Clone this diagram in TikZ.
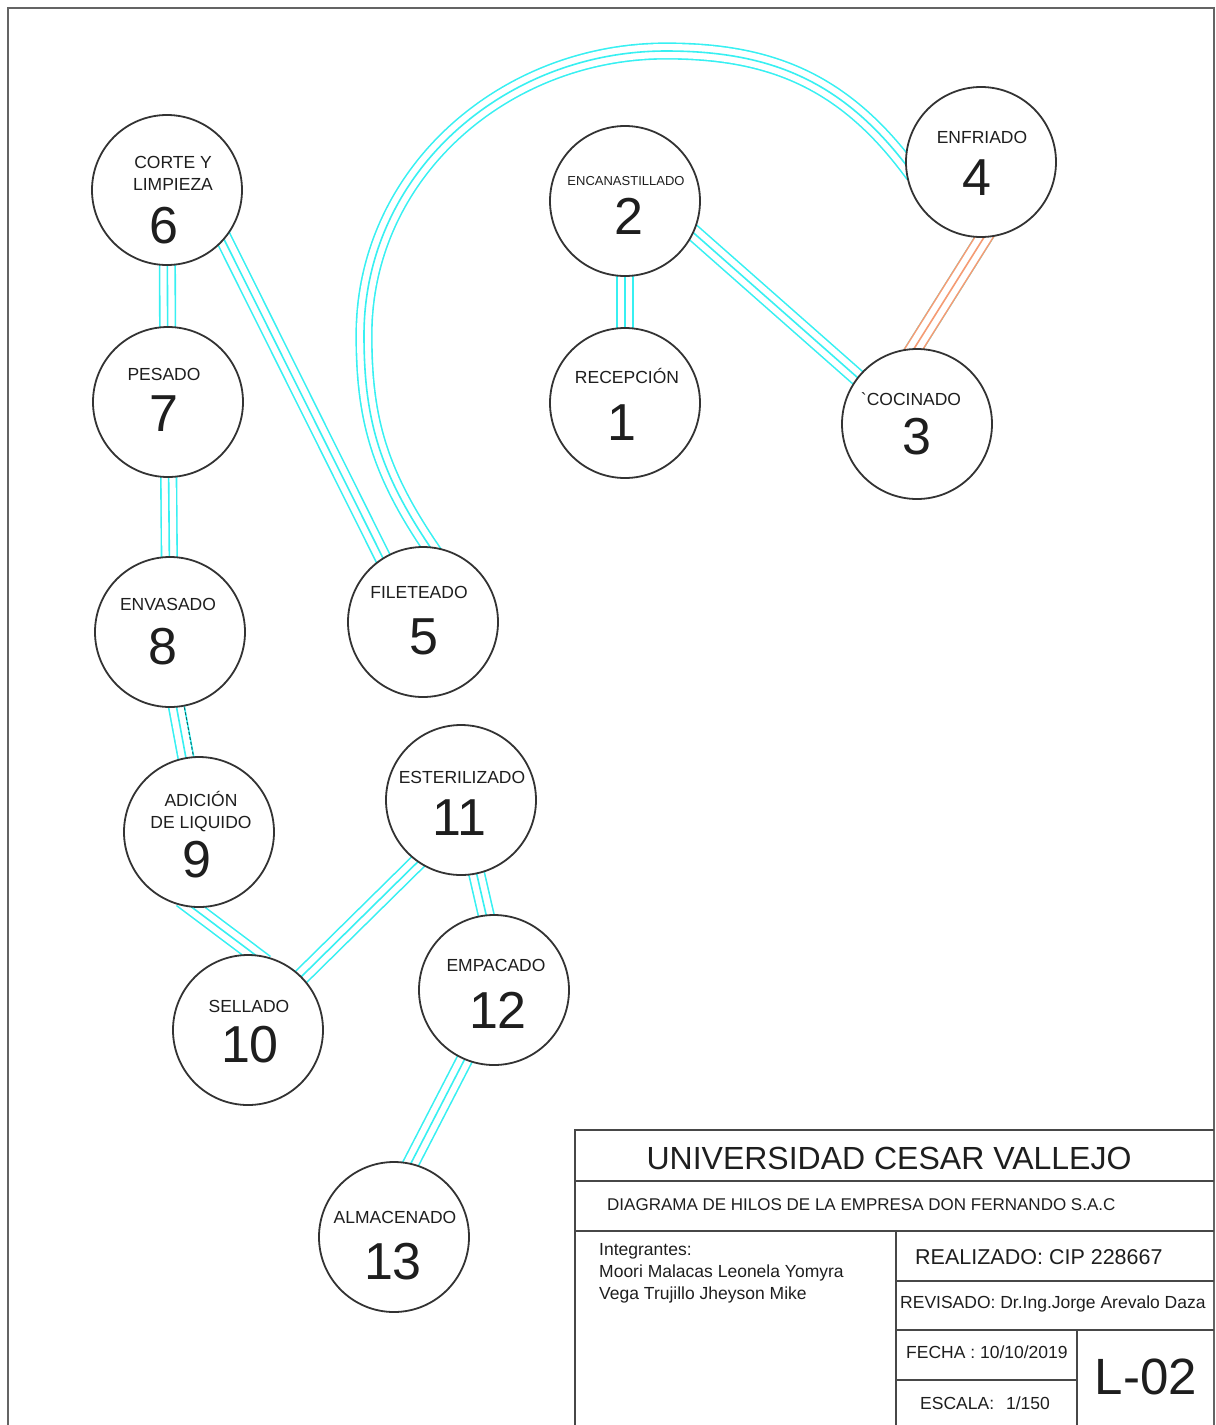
\documentclass[tikz,border=0pt]{standalone}
\usepackage{fontspec}
\setmainfont{Liberation Sans}
\usepackage{tikz}
\usetikzlibrary{
  arrows.meta,
  positioning,
  backgrounds
}
\usepackage{xcolor}
\definecolor{cian}{RGB}{55,240,242}
\definecolor{naranja}{RGB}{245,155,115}
\definecolor{trazo}{RGB}{51,51,51}
\definecolor{marco}{RGB}{100,100,100}
\definecolor{texto}{RGB}{30,30,30}

\begin{document}
\begin{tikzpicture}[
  x=1pt, y=1pt,
  every node/.style={text=texto, inner sep=0pt},
  estacion/.style={circle, draw=trazo, fill=white, line width=1.8pt, minimum size=150pt},
  etiq/.style={font=\fontsize{17.5}{22}\selectfont, align=center},
  etiqchica/.style={font=\fontsize{13}{15}\selectfont},
  numero/.style={font=\fontsize{52}{52}\selectfont},
  hilo/.style={draw=cian, line width=1.6pt, shorten <=-14pt, shorten >=-14pt,
    preaction={draw=cian, line width=1.6pt, double=white, double distance=14pt}},
  hilonaranja/.style={hilo, draw=naranja,
    preaction={draw=naranja, line width=1.6pt, double=white, double distance=14pt}},
  cuadro/.style={draw=trazo!90, line width=1.8pt},
  rotulo/.style={font=\fontsize{17.5}{22}\selectfont, anchor=west},
]
\useasboundingbox (0,0) rectangle (1216,-1425);

\draw[marco, line width=2.5pt] (8,-1440) -- (8,-8) -- (1214,-8) -- (1214,-1440);

\node[estacion] (c6) at (167,-190) {};
\node[etiq] (e6) at (173,-173) {CORTE Y\\LIMPIEZA};
\node[numero] (d6) at (164,-226) {6};

\node[estacion] (c7) at (168,-402) {};
\node[etiq] (e7) at (164,-374) {PESADO};
\node[numero] (d7) at (164,-414) {7};

\node[estacion] (c8) at (170,-632) {};
\node[etiq] (e8) at (168,-604) {ENVASADO};
\node[numero] (d8) at (163,-647) {8};

\node[estacion] (c9) at (199,-832) {};
\node[etiq] (e9) at (201,-812) {ADICIÓN\\DE LIQUIDO};
\node[numero] (d9) at (197,-860) {9};

\node[estacion] (c10) at (248,-1030) {};
\node[etiq] (e10) at (249,-1006) {SELLADO};
\node[numero] (d10) at (250,-1045) {10};

\node[estacion] (c11) at (461,-800) {};
\node[etiq] (e11) at (462,-777) {ESTERILIZADO};
\node[numero] (d11) at (459,-818) {11};

\node[estacion] (c12) at (494,-990) {};
\node[etiq] (e12) at (496,-965) {EMPACADO};
\node[numero] (d12) at (498,-1010) {12};

\node[estacion] (c13) at (394,-1237) {};
\node[etiq] (e13) at (395,-1217) {ALMACENADO};
\node[numero] (d13) at (393,-1262) {13};

\node[estacion] (c5) at (423,-622) {};
\node[etiq] (e5) at (419,-592) {FILETEADO};
\node[numero] (d5) at (424,-637) {5};

\node[estacion] (c2) at (625,-201) {};
\node[etiq, etiqchica] (e2) at (626,-181) {ENCANASTILLADO};
\node[numero] (d2) at (629,-216) {2};

\node[estacion] (c1) at (625,-403) {};
\node[etiq] (e1) at (627,-376) {RECEPCIÓN};
\node[numero] (d1) at (622,-423) {1};

\node[estacion] (c3) at (917,-424) {};
\node[etiq] (e3) at (911,-399) {\textasciigrave COCINADO};
\node[numero] (d3) at (917,-437) {3};

\node[estacion] (c4) at (981,-162) {};
\node[etiq] (e4) at (982,-137) {ENFRIADO};
\node[numero] (d4) at (977,-178) {4};

\coordinate (arcL) at (364,-335);
\coordinate (arcT) at (666,-51);

\begin{scope}[on background layer]
\draw[hilo] (c6) -- (c7);
\draw[hilo] (c7) -- (c8);
\draw[hilo] (c8.-85) -- (c9.100);
\draw[teal!85!black, line width=1pt, dash pattern=on 3pt off 2pt,
  shorten <=-14pt, shorten >=-14pt,
  transform canvas={shift={(7.6pt,1.2pt)}}] (c8.-85) -- (c9.100);
\draw[hilo] (c9.-95) -- (c10.85);
\draw[hilo] (c10.45) -- (c11.-125);
\draw[hilo] (c11.-78) -- (c12.96);
\draw[hilo] (c12.-113) -- (c13.77);
\draw[hilo] (c6.-41) -- (c5.122);
\draw[hilo] (c5.85) to[out=125,in=-90] (arcL) to[out=90,in=180] (arcT) to[out=0,in=126] (c4.181);
\draw[hilo] (c2) -- (c1);
\draw[hilo] (c2.-25) -- (c3.142);
\draw[hilonaranja] (c3.92) -- (c4.-88);
\end{scope}

\draw[cuadro] (575,-1440) -- (575,-1130) -- (1214,-1130);
\draw[cuadro] (575,-1181) -- (1214,-1181);
\draw[cuadro] (575,-1231) -- (1214,-1231);
\draw[cuadro] (896,-1231) -- (896,-1440);
\draw[cuadro] (896,-1281) -- (1214,-1281);
\draw[cuadro] (896,-1330) -- (1214,-1330);
\draw[cuadro] (896,-1380) -- (1077,-1380);
\draw[cuadro] (1077,-1330) -- (1077,-1440);

\node[font=\fontsize{32}{32}\selectfont] (universidad) at (889,-1158) {UNIVERSIDAD CESAR VALLEJO};
\node[rotulo, font=\fontsize{17}{20}\selectfont] (tituloplano) at (607,-1205) {DIAGRAMA DE HILOS DE LA EMPRESA DON FERNANDO S.A.C};
\node[rotulo, anchor=north west, align=left] (integrantes) at (599,-1243) {Integrantes:\\Moori Malacas Leonela Yomyra\\Vega Trujillo Jheyson Mike};
\node[rotulo, font=\fontsize{21.5}{24}\selectfont] (realizado) at (915,-1257) {REALIZADO: CIP 228667};
\node[rotulo] (revisado) at (900,-1304) {REVISADO: Dr.Ing.Jorge Arevalo Daza};
\node[rotulo] (fecha) at (906,-1352) {FECHA : 10/10/2019};
\node[rotulo] (escala) at (920,-1403) {ESCALA:\hspace{12pt}1/150};
\node[font=\fontsize{51}{51}\selectfont] (lamina) at (1146,-1377) {L-02};

\end{tikzpicture}
\end{document}
